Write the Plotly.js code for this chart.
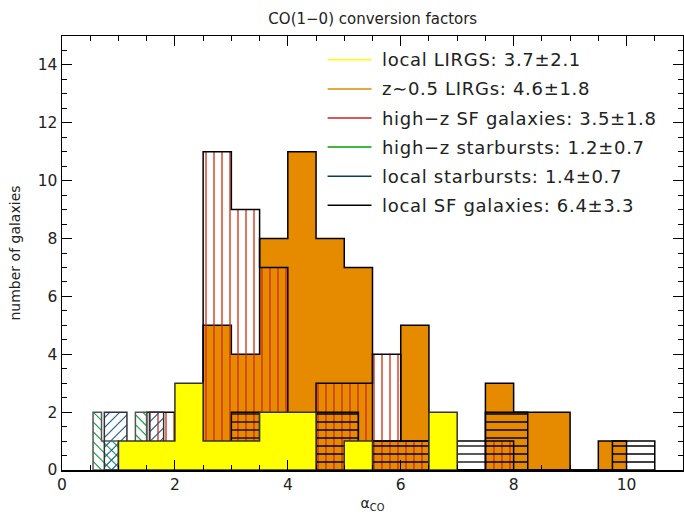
<!DOCTYPE html>
<html>
<head>
<meta charset="utf-8">
<script src="https://cdn.plot.ly/plotly-3.0.1.min.js"></script>
<style>
body{margin:0;padding:0;background:#fff;}
.annotation-text{letter-spacing:0.7px;}
</style>
</head>
<body>
<div id="chart" style="width:684px;height:523px;"></div>
<script>
// ---- data: histogram bins (left edge, right edge, count) ----
const localLirgsLeft  = [1.0, 2.0, 2.5, 3.5, 5.0, 6.5];
const localLirgsRight = [2.0, 2.5, 3.5, 4.5, 5.5, 7.0];
const localLirgsCount = [1, 3, 1, 2, 1, 2];

const zLirgsLeft  = [2.5, 3.0, 3.5, 4.0, 4.5, 5.0, 5.5, 6.0, 7.5, 8.0, 9.5];
const zLirgsRight = [3.0, 3.5, 4.0, 4.5, 5.0, 5.5, 6.0, 6.5, 8.0, 9.0, 10.0];
const zLirgsCount = [5, 4, 8, 11, 8, 7, 1, 5, 3, 2, 1];

const highzSFLeft  = [1.5, 2.5, 3.0, 3.5, 4.5, 5.0, 5.5, 6.0, 7.5];
const highzSFRight = [2.0, 3.0, 3.5, 4.0, 5.0, 5.5, 6.0, 6.5, 8.0];
const highzSFCount = [2, 11, 9, 7, 3, 3, 4, 1, 1];

const highzSBLeft  = [0.55, 0.7, 1.3];
const highzSBRight = [0.7, 1.0, 1.5];
const highzSBCount = [2, 1, 2];

const localSBLeft  = [0.75, 1.55];
const localSBRight = [1.15, 1.8];
const localSBCount = [2, 2];

const localSFLeft  = [3.0, 4.5, 5.5, 7.0, 7.5, 9.75];
const localSFRight = [3.5, 5.25, 6.5, 7.5, 8.25, 10.5];
const localSFCount = [2, 2, 1, 1, 2, 1];

const seriesNames = [
  'local LIRGS: 3.7\u00b12.1',
  'z\u223c0.5 LIRGs: 4.6\u00b11.8',
  'high\u2212z SF galaxies: 3.5\u00b11.8',
  'high\u2212z starbursts: 1.2\u00b10.7',
  'local starbursts: 1.4\u00b10.7',
  'local SF galaxies: 6.4\u00b13.3'
];
const legendColors = ['#ffff00', '#e68a00', '#cc2222', '#00a000', '#0a3a66', '#000000'];

const xTickVals = [0, 2, 4, 6, 8, 10];
const yTickVals = [0, 2, 4, 6, 8, 10, 12, 14];

// ---- geometry of the plot (used only to space hatch lines in pixels) ----
const W = 684, H = 523, M = {l: 62, r: 1, t: 36, b: 53};
const X_RANGE = [0, 11], Y_RANGE = [0, 15];
const PX_X = (W - M.l - M.r) / (X_RANGE[1] - X_RANGE[0]);
const PX_Y = (H - M.t - M.b) / (Y_RANGE[1] - Y_RANGE[0]);

// ---- histogram step outline from bins ----
function stepOutline(L, R, N) {
  const xs = [], ys = [];
  for (let i = 0; i < L.length; i++) {
    const contiguous = i > 0 && Math.abs(L[i] - R[i - 1]) < 1e-9;
    if (!contiguous) {
      if (i > 0) { xs.push(R[i - 1]); ys.push(0); }
      xs.push(L[i]); ys.push(0);
    }
    xs.push(L[i]); ys.push(N[i]);
    xs.push(R[i]); ys.push(N[i]);
  }
  xs.push(R[R.length - 1]); ys.push(0);
  xs.push(L[0]); ys.push(0);
  return {xs, ys};
}

function histTrace(L, R, N, fillColor, lineColor) {
  const s = stepOutline(L, R, N);
  return {
    x: s.xs, y: s.ys, type: 'scatter', mode: 'lines',
    fill: fillColor ? 'toself' : 'none', fillcolor: fillColor || undefined,
    showlegend: false, hoverinfo: 'skip',
    line: {color: lineColor || '#000', width: 1.5}
  };
}

// ---- line-fill hatching inside each bin ----
function hatchVertical(L, R, N, spacingPx) {
  const s = spacingPx / PX_X, xs = [], ys = [];
  for (let i = 0; i < L.length; i++) {
    for (let k = Math.ceil((L[i] + 1e-6) / s); k * s < R[i] - 1e-6; k++) {
      xs.push(k * s, k * s, null); ys.push(0, N[i], null);
    }
  }
  return {xs, ys};
}
function hatchHorizontal(L, R, N, spacingPx) {
  const s = spacingPx / PX_Y, xs = [], ys = [];
  for (let i = 0; i < L.length; i++) {
    for (let k = 1; k * s < N[i] - 1e-6; k++) {
      xs.push(L[i], R[i], null); ys.push(k * s, k * s, null);
    }
  }
  return {xs, ys};
}
// dir = +1 for '/', -1 for '\' (screen orientation)
function hatchDiagonal(L, R, N, spacingPx, dir) {
  const step = spacingPx * Math.SQRT2, xs = [], ys = [];
  for (let i = 0; i < L.length; i++) {
    const X0 = L[i] * PX_X, X1 = R[i] * PX_X, Hh = N[i] * PX_Y;
    if (dir > 0) {
      for (let k = Math.ceil(-X1 / step); k * step <= Hh - X0; k++) {
        const c = k * step, xa = Math.max(X0, -c), xb = Math.min(X1, Hh - c);
        if (xb > xa) { xs.push(xa / PX_X, xb / PX_X, null); ys.push((xa + c) / PX_Y, (xb + c) / PX_Y, null); }
      }
    } else {
      for (let k = Math.ceil(X0 / step); k * step <= X1 + Hh; k++) {
        const c = k * step, xa = Math.max(X0, c - Hh), xb = Math.min(X1, c);
        if (xb > xa) { xs.push(xa / PX_X, xb / PX_X, null); ys.push((c - xa) / PX_Y, (c - xb) / PX_Y, null); }
      }
    }
  }
  return {xs, ys};
}
function hatchTrace(h, color, width) {
  return {x: h.xs, y: h.ys, type: 'scatter', mode: 'lines', showlegend: false, hoverinfo: 'skip',
    connectgaps: false, line: {color: color, width: width}};
}

const traces = [
  histTrace(zLirgsLeft, zLirgsRight, zLirgsCount, '#e68a00', '#000'),
  hatchTrace(hatchVertical(highzSFLeft, highzSFRight, highzSFCount, 8), '#d42a0a', 1.3),
  histTrace(highzSFLeft, highzSFRight, highzSFCount, null, '#000'),
  hatchTrace(hatchHorizontal(localSFLeft, localSFRight, localSFCount, 8), '#000', 1.3),
  histTrace(localSFLeft, localSFRight, localSFCount, null, '#000'),
  hatchTrace(hatchDiagonal(highzSBLeft, highzSBRight, highzSBCount, 7, -1), '#10a040', 1.1),
  histTrace(highzSBLeft, highzSBRight, highzSBCount, null, '#555'),
  hatchTrace(hatchDiagonal(localSBLeft, localSBRight, localSBCount, 7, 1), '#1a5a9a', 1.1),
  histTrace(localSBLeft, localSBRight, localSBCount, null, '#333'),
  histTrace(localLirgsLeft, localLirgsRight, localLirgsCount, '#ffff00', '#333')
];

const fontFam = 'DejaVu Sans, sans-serif';

// legend: line keys + labels in paper coordinates
const legTop = 0.945, legStep = 0.067, legX0 = 0.4277, legX1 = 0.4984, legTextX = 0.5113;
const shapes = [], annotations = [];
seriesNames.forEach((nm, i) => {
  const yy = legTop - i * legStep;
  shapes.push({type: 'line', xref: 'paper', yref: 'paper', x0: legX0, x1: legX1, y0: yy, y1: yy,
    line: {color: legendColors[i], width: 1.5}});
  annotations.push({xref: 'paper', yref: 'paper', x: legTextX, y: yy, xanchor: 'left', yanchor: 'middle',
    text: nm, showarrow: false, font: {family: fontFam, size: 18, color: '#222'}});
});

const axisCommon = {
  showgrid: false, zeroline: false, showline: true, linecolor: '#000', linewidth: 1.5,
  mirror: 'ticks', ticks: 'inside', ticklen: 10, tickwidth: 1, tickcolor: '#000',
  tickfont: {family: fontFam, size: 15.5, color: '#222'},
  minor: {dtick: 0.5, ticks: 'inside', ticklen: 5, tickwidth: 1, tickcolor: '#000'}
};

const layout = {
  width: W, height: H,
  margin: M,
  paper_bgcolor: '#fff', plot_bgcolor: '#fff',
  showlegend: false,
  title: {text: 'CO(1\u22120) conversion factors', x: 0.545, xanchor: 'center', y: 0.965, yanchor: 'middle',
    font: {family: fontFam, size: 15, color: '#222'}},
  xaxis: Object.assign({}, axisCommon, {range: X_RANGE, tickvals: xTickVals,
    title: {text: '\u03b1<sub>CO</sub>', font: {family: fontFam, size: 14, color: '#222'}, standoff: 5}}),
  yaxis: Object.assign({}, axisCommon, {range: Y_RANGE, tickvals: yTickVals,
    title: {text: 'number of galaxies', font: {family: fontFam, size: 14, color: '#222'}, standoff: 14}}),
  shapes: shapes,
  annotations: annotations
};

Plotly.newPlot('chart', traces, layout, {displayModeBar: false, staticPlot: true});
</script>
</body>
</html>
